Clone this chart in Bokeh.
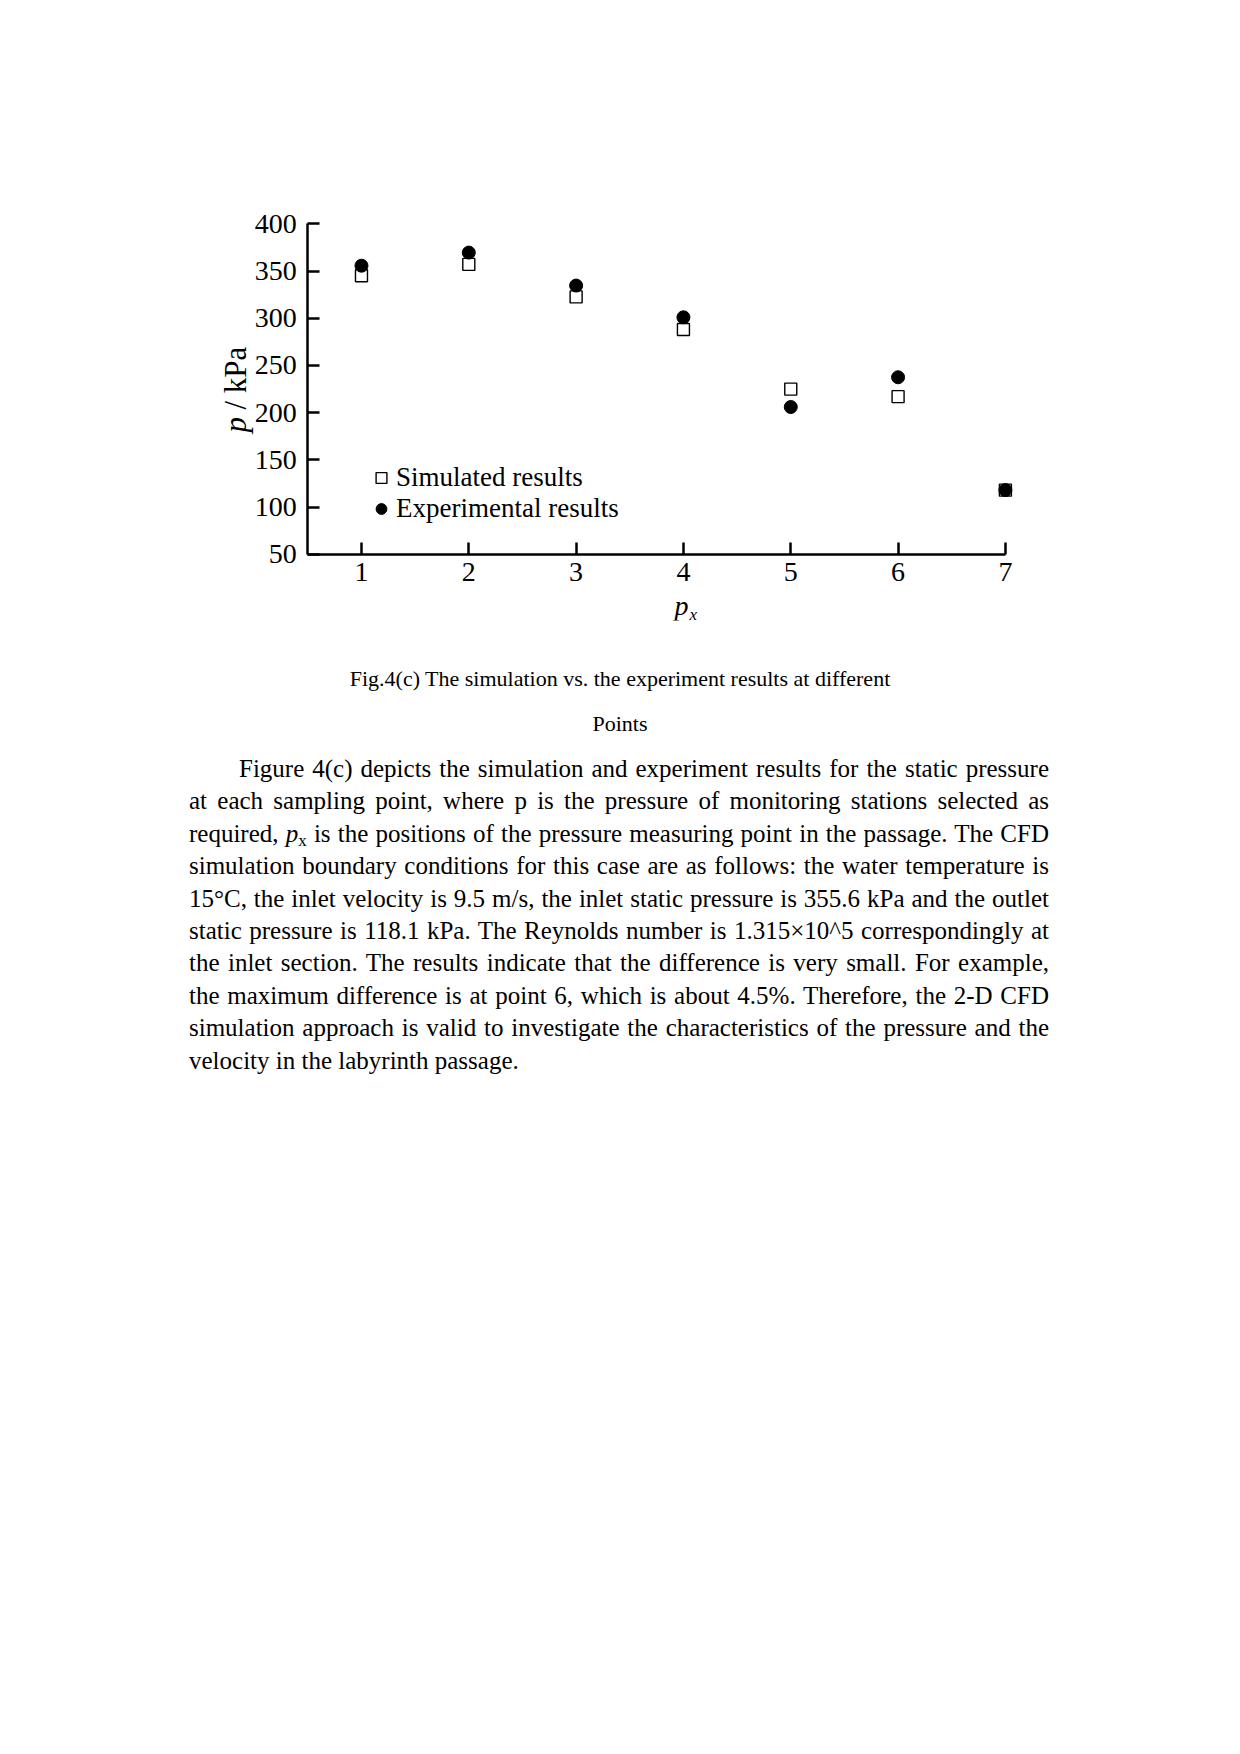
import math
from bokeh.plotting import figure
from bokeh.models import Legend, LegendItem, Label, FixedTicker, Div, Range1d
from bokeh.layouts import column
from bokeh.embed import file_html
from bokeh.resources import INLINE

# ---- data ----
positions = [1, 2, 3, 4, 5, 6, 7]
simulated = [345, 357, 322.6, 288, 225, 217, 118]
experimental = [355.6, 369.5, 334.6, 301, 206, 237.5, 118.1]
x_ticks = [1, 2, 3, 4, 5, 6, 7]
y_ticks = [50, 100, 150, 200, 250, 300, 350, 400]
series_labels = ["Simulated results", "Experimental results"]
x_label_main, x_label_sub = "p", "x"
y_label_main, y_label_rest = "p", "/ kPa"

caption_lines = ["Fig.4(c) The simulation vs. the experiment results at different", "Points"]
para_lines = [
    "Figure 4(c) depicts the simulation and experiment results for the static pressure",
    "at each sampling point, where p is the pressure of monitoring stations selected as",
    "required, <i>p</i><sub style=\"font-size:0.68em;vertical-align:-0.25em;line-height:0\">x</sub> is the positions of the pressure measuring point in the passage. The CFD",
    "simulation boundary conditions for this case are as follows: the water temperature is",
    "15°C, the inlet velocity is 9.5 m/s, the inlet static pressure is 355.6 kPa and the outlet",
    "static pressure is 118.1 kPa. The Reynolds number is 1.315×10^5 correspondingly at",
    "the inlet section. The results indicate that the difference is very small. For example,",
    "the maximum difference is at point 6, which is about 4.5%. Therefore, the 2-D CFD",
    "simulation approach is valid to investigate the characteristics of the pressure and the",
    "velocity in the labyrinth passage.",
]

FONT = "Liberation Serif"
AX_X0, AX_X1 = 0.5, 7          # drawn extent of the x axis
AX_Y0, AX_Y1 = 50, 400         # drawn extent of the y axis
PPU_X = 107.38                 # px per x unit
PPU_Y = 331 / 350              # px per y unit
XR = (-0.5, 7.15)
YR = (-20, 413)
FW = round((XR[1] - XR[0]) * PPU_X)
FH = round((YR[1] - YR[0]) * PPU_Y)
TOP = 211
BOTTOM = 42
F_BOTTOM = TOP + FH + BOTTOM   # page y where the text block starts

p = figure(output_backend="svg", toolbar_location=None,
           x_range=Range1d(*XR), y_range=Range1d(*YR),
           frame_width=FW, frame_height=FH,
           min_border_left=200, min_border_top=TOP, min_border_right=10, min_border_bottom=BOTTOM,
           background_fill_color="white", border_fill_color="white")
p.outline_line_color = None
p.grid.visible = False

sq = p.scatter(positions, simulated, marker="square", size=12, fill_color="white",
               line_color="black", line_width=1.4)
ci = p.scatter(positions, experimental, marker="circle", size=13, fill_color="black",
               line_color="black")

for ax in (p.xaxis[0], p.yaxis[0]):
    ax.axis_line_width = 2.5
    ax.axis_line_color = "black"
    ax.major_tick_line_width = 2.5
    ax.major_tick_line_color = "black"
    ax.major_tick_in = 12
    ax.major_tick_out = 0
    ax.minor_tick_in = 0
    ax.minor_tick_out = 0
    ax.major_label_text_font = FONT
    ax.major_label_text_font_size = "28px"
    ax.major_label_text_color = "black"
    ax.axis_label = None

p.xaxis.ticker = FixedTicker(ticks=x_ticks)
p.xaxis.bounds = (AX_X0, AX_X1)
p.xaxis.fixed_location = AX_Y0
p.xaxis.major_label_standoff = 9
p.yaxis.ticker = FixedTicker(ticks=y_ticks)
p.yaxis.bounds = (AX_Y0, AX_Y1)
p.yaxis.fixed_location = AX_X0
p.yaxis.major_label_standoff = 11

legend_style = dict(glyph_width=30, glyph_height=27, label_height=27,
                    spacing=0, padding=0, margin=0, label_standoff=0,
                    border_line_color=None, background_fill_alpha=0,
                    label_text_font=FONT, label_text_font_size="27px", label_text_color="black")
legend_sim = Legend(items=[LegendItem(label=series_labels[0], renderers=[sq])],
                    location=(166, 127), **legend_style)
legend_exp = Legend(items=[LegendItem(label=series_labels[1], renderers=[ci])],
                    location=(166, 96), **legend_style)
p.add_layout(legend_sim)
p.add_layout(legend_exp)

# x axis label p_x under tick 4
p.add_layout(Label(x=4, y=AX_Y0 - 51 / PPU_Y, text=x_label_main, text_font=FONT,
                   text_font_style="italic", text_font_size="28px", text_align="center",
                   text_baseline="alphabetic", x_offset=-2, text_color="black"))
p.add_layout(Label(x=4, y=AX_Y0 - 60 / PPU_Y, text=x_label_sub, text_font=FONT,
                   text_font_style="italic", text_font_size="17px", text_align="left",
                   text_baseline="alphabetic", x_offset=6, text_color="black"))

# y axis label p / kPa (rotated)
ylab_x = AX_X0 - 72 / PPU_X
p.add_layout(Label(x=ylab_x, y=AX_Y0 + 122 / PPU_Y, text=y_label_main, text_font=FONT,
                   text_font_style="italic", text_font_size="31px", text_align="left",
                   text_baseline="middle", angle=math.pi / 2, text_color="black"))
p.add_layout(Label(x=ylab_x, y=AX_Y0 + 145 / PPU_Y, text=y_label_rest, text_font=FONT,
                   text_font_size="31px", text_align="left",
                   text_baseline="middle", angle=math.pi / 2, text_color="black"))

# ---- text block below the chart (page y positions relative to F_BOTTOM) ----
cap1_top = 679 - 15 - F_BOTTOM
cap2_top = 724 - 15 - F_BOTTOM
para_top = 753 - F_BOTTOM
rows = []
for i, ln in enumerate(para_lines):
    last = i == len(para_lines) - 1
    align = "left" if last else "justify"
    pad = "padding-left:50px;" if i == 0 else ""
    rows.append(f'<div style="text-align:{align};text-align-last:{align};{pad}height:32.4px;line-height:32.4px;">{ln}</div>')

html = (
    '<div style="position:relative;width:1232px;height:420px;font-family:\'Liberation Serif\';color:#000;">'
    f'<div style="position:absolute;left:8px;width:1224px;top:{cap1_top}px;height:30px;line-height:30px;font-size:22px;text-align:center;">{caption_lines[0]}</div>'
    f'<div style="position:absolute;left:8px;width:1224px;top:{cap2_top}px;height:30px;line-height:30px;font-size:22px;text-align:center;">{caption_lines[1]}</div>'
    f'<div style="position:absolute;left:189px;width:860px;top:{para_top}px;font-size:25px;">' + "".join(rows) + '</div>'
    '</div>'
)
text_block = Div(text=html, width=1232, height=420, margin=(0, 0, 0, 0))

layout = column(p, text_block, spacing=0)
open("out.html", "w").write(file_html(layout, INLINE))
